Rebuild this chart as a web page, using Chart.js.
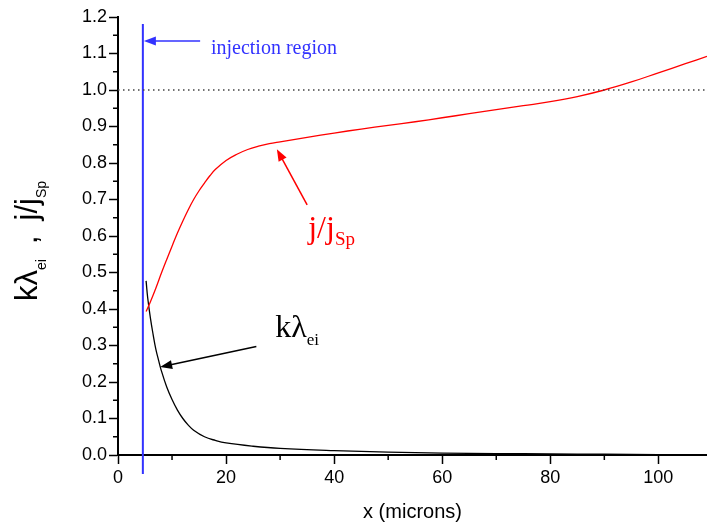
<!DOCTYPE html>
<html>
<head>
<meta charset="utf-8">
<script src="https://cdn.jsdelivr.net/npm/chart.js@4.4.1/dist/chart.umd.min.js"></script>
<style>
  html, body { margin: 0; padding: 0; background: #fff; }
  canvas { display: block; }
</style>
</head>
<body>
<canvas id="c" width="707" height="524"></canvas>
<script>
// j/jSp curve
const jX = [5.2, 6, 7, 8, 9, 10, 11, 12, 13, 14, 15, 16, 17, 18, 20, 22, 24, 26, 28, 30, 35, 40, 45, 50, 55, 60, 65, 70, 75, 80, 85, 90, 95, 100, 105, 109];
const jY = [0.393, 0.42, 0.457, 0.497, 0.535, 0.572, 0.608, 0.641, 0.672, 0.70, 0.724, 0.745, 0.765, 0.782, 0.807, 0.824, 0.837, 0.846, 0.853, 0.858, 0.87, 0.882, 0.893, 0.903, 0.913, 0.924, 0.935, 0.946, 0.957, 0.968, 0.982, 1.0, 1.022, 1.047, 1.072, 1.092];
// k lambda_ei curve
const kX = [5.2, 5.5, 6, 6.5, 7, 7.5, 8, 9, 10, 11, 12, 13, 14, 16, 18, 20, 25, 30, 40, 50, 60, 70, 80, 90, 100, 109];
const kY = [0.477, 0.43, 0.375, 0.33, 0.29, 0.26, 0.232, 0.187, 0.152, 0.123, 0.1, 0.082, 0.068, 0.05, 0.04, 0.033, 0.024, 0.018, 0.012, 0.008, 0.005, 0.004, 0.003, 0.002, 0.001, 0.001];
// reference lines
const injectionX = 4.6;
const unityY = 1.0;

const xMinor = [10, 30, 50, 70, 90];
const yMinor = [0.05, 0.15, 0.25, 0.35, 0.45, 0.55, 0.65, 0.75, 0.85, 0.95, 1.05, 1.15];

const toPts = (xs, ys) => xs.map((x, i) => ({ x: x, y: ys[i] }));

const SANS = '"Liberation Sans", Arial, sans-serif';
const SERIF = '"Liberation Serif", "Times New Roman", serif';

// draws text with a subscript part, returns end x
function subText(ctx, x, y, main, sub, mainPx, subPx, drop, color, family) {
  ctx.fillStyle = color;
  ctx.font = mainPx + 'px ' + family;
  ctx.fillText(main, x, y);
  const w = ctx.measureText(main).width;
  ctx.font = subPx + 'px ' + family;
  ctx.fillText(sub, x + w, y + drop);
  return x + w + ctx.measureText(sub).width;
}

function arrow(ctx, x0, y0, x1, y1, color) {
  const a = Math.atan2(y1 - y0, x1 - x0);
  const len = 12, half = 4.5;
  ctx.save();
  ctx.strokeStyle = color;
  ctx.fillStyle = color;
  ctx.lineWidth = 1.5;
  ctx.beginPath();
  ctx.moveTo(x0, y0);
  ctx.lineTo(x1 - Math.cos(a) * len * 0.8, y1 - Math.sin(a) * len * 0.8);
  ctx.stroke();
  ctx.beginPath();
  ctx.moveTo(x1, y1);
  ctx.lineTo(x1 - Math.cos(a) * len + Math.sin(a) * half, y1 - Math.sin(a) * len - Math.cos(a) * half);
  ctx.lineTo(x1 - Math.cos(a) * len - Math.sin(a) * half, y1 - Math.sin(a) * len + Math.cos(a) * half);
  ctx.closePath();
  ctx.fill();
  ctx.restore();
}

const extras = {
  id: 'extras',
  afterDraw(chart) {
    const ctx = chart.ctx;
    const xs = chart.scales.x, ys = chart.scales.y;
    const px = v => xs.getPixelForValue(v);
    const py = v => ys.getPixelForValue(v);
    const bottom = chart.chartArea.bottom, left = chart.chartArea.left;

    // minor ticks
    ctx.save();
    ctx.strokeStyle = '#000';
    ctx.lineWidth = 1.5;
    ctx.beginPath();
    xMinor.forEach(v => { ctx.moveTo(px(v), bottom); ctx.lineTo(px(v), bottom + 5); });
    yMinor.forEach(v => { ctx.moveTo(left, py(v)); ctx.lineTo(left - 5, py(v)); });
    ctx.stroke();
    ctx.restore();

    ctx.save();
    ctx.textBaseline = 'alphabetic';

    // injection region
    arrow(ctx, px(15.2), py(1.134), px(injectionX) + 1, py(1.134), 'rgb(50,50,255)');
    ctx.fillStyle = 'rgb(50,50,255)';
    ctx.font = '20px ' + SERIF;
    ctx.fillText('injection region', px(17.2), py(1.099));

    // j/jSp label
    arrow(ctx, px(35.0), py(0.685), px(29.4), py(0.838), '#ff0000');
    subText(ctx, px(35.2), py(0.595), 'j/j', 'Sp', 32, 19, 7, '#ff0000', SERIF);

    // k lambda label
    arrow(ctx, px(25.6), py(0.297), px(7.8), py(0.241), '#000');
    subText(ctx, px(29.1), py(0.323), 'k\u03bb', 'ei', 32, 17, 8, '#000', SERIF);

    // x title
    ctx.fillStyle = '#000';
    ctx.font = '20px ' + SANS;
    ctx.textAlign = 'center';
    ctx.fillText('x (microns)', (chart.chartArea.left + chart.chartArea.right) / 2, 518);
    ctx.textAlign = 'left';

    // y title, rotated
    ctx.translate(37, 0);
    ctx.rotate(-Math.PI / 2);
    ctx.font = '31px ' + SANS;
    const w1 = ctx.measureText('k\u03bb').width;
    const wj = ctx.measureText('j/j').width;
    const wc = ctx.measureText(',').width;
    ctx.font = '14px ' + SANS;
    const we = ctx.measureText('ei').width;
    const ws = ctx.measureText('Sp').width;
    const gap = 15;
    const total = w1 + we + gap + wc + gap + wj + ws;
    let t = -(241 + total / 2);
    t = subText(ctx, t, 0, 'k\u03bb', 'ei', 31, 14, 9, '#000', SANS);
    ctx.font = '31px ' + SANS;
    ctx.fillText(',', t + gap, 0);
    t += gap + wc + gap;
    subText(ctx, t, 0, 'j/j', 'Sp', 31, 14, 9, '#000', SANS);
    ctx.restore();
  }
};

new Chart(document.getElementById('c'), {
  type: 'scatter',
  data: {
    datasets: [
      {
        data: [{ x: 0, y: unityY }, { x: 109, y: unityY }],
        showLine: true, borderColor: '#444', borderWidth: 1.5, borderDash: [1.5, 3.5],
        pointRadius: 0
      },
      {
        data: [{ x: injectionX, y: 1.181 }, { x: injectionX, y: -0.052 }],
        showLine: true, borderColor: 'rgb(50,50,255)', borderWidth: 2,
        pointRadius: 0, clip: false
      },
      {
        data: toPts(jX, jY),
        showLine: true, borderColor: '#ff0000', borderWidth: 1.3,
        pointRadius: 0, tension: 0.4
      },
      {
        data: toPts(kX, kY),
        showLine: true, borderColor: '#000', borderWidth: 1.3,
        pointRadius: 0, tension: 0.4
      }
    ]
  },
  options: {
    responsive: false,
    animation: false,
    devicePixelRatio: 1,
    layout: { padding: { top: 17, right: 0, left: 0, bottom: 0 } },
    plugins: { legend: { display: false }, tooltip: { enabled: false } },
    scales: {
      x: {
        type: 'linear', min: 0, max: 109,
        afterFit: s => { s.height = 69; },
        border: { color: '#000', width: 2 },
        grid: { drawOnChartArea: false, drawTicks: true, tickLength: 9, tickColor: '#000', tickWidth: 1.5 },
        ticks: { stepSize: 20, includeBounds: false, color: '#000', padding: 3,
          font: { family: SANS, size: 18 } }
      },
      y: {
        type: 'linear', min: 0, max: 1.2,
        afterFit: s => { s.width = 118; },
        border: { color: '#000', width: 2 },
        grid: { drawOnChartArea: false, drawTicks: true, tickLength: 9, tickColor: '#000', tickWidth: 1.5 },
        ticks: { stepSize: 0.1, color: '#000', padding: 2,
          font: { family: SANS, size: 18 },
          callback: v => v.toFixed(1) }
      }
    }
  },
  plugins: [extras]
});
</script>
</body>
</html>
